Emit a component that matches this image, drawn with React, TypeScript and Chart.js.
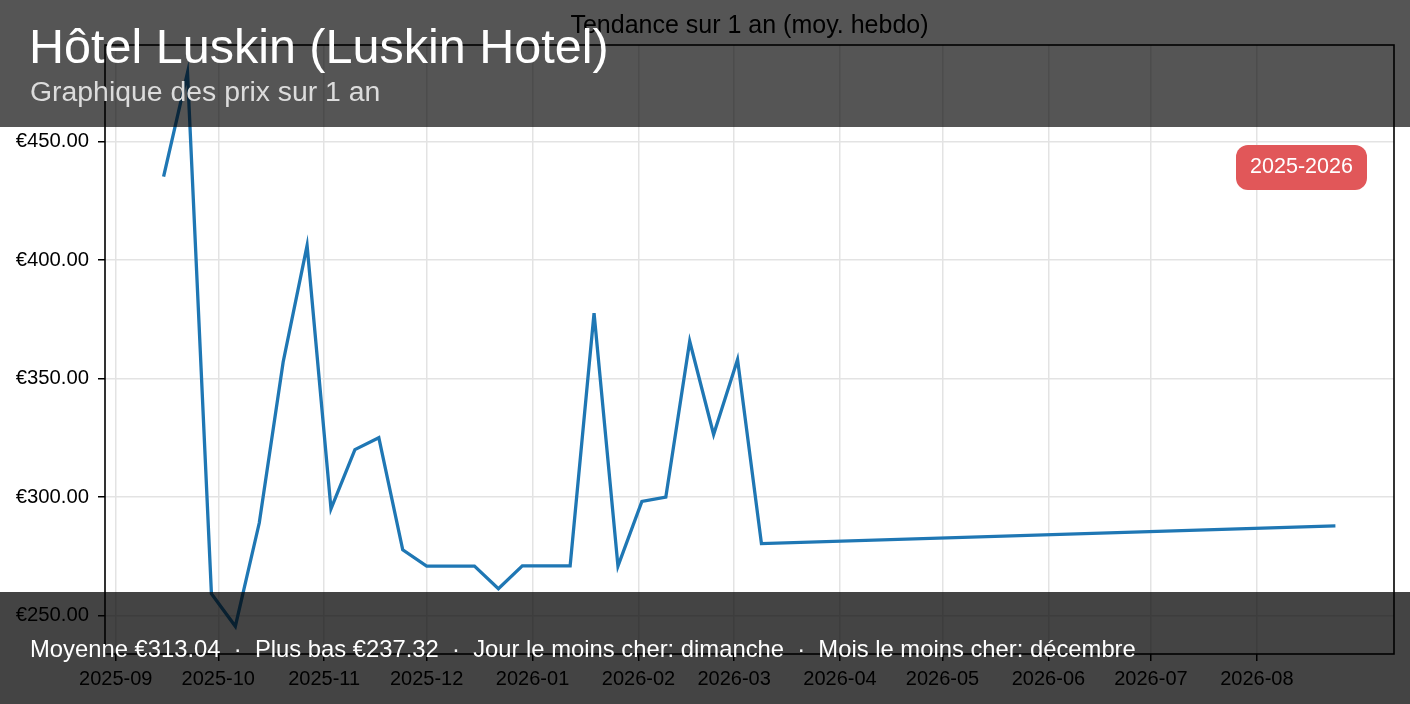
import React, { useEffect, useRef } from "react";
import { Chart, registerables } from "chart.js";

Chart.register(...registerables);

// ---- Data ----
const weekStarts = [
  "2025-09-15", "2025-09-22", "2025-09-29", "2025-10-06", "2025-10-13", "2025-10-20",
  "2025-10-27", "2025-11-03", "2025-11-10", "2025-11-17", "2025-11-24", "2025-12-01",
  "2025-12-08", "2025-12-15", "2025-12-22", "2025-12-29", "2026-01-05", "2026-01-12",
  "2026-01-19", "2026-01-26", "2026-02-02", "2026-02-09", "2026-02-16", "2026-02-23",
  "2026-03-02", "2026-03-09", "2026-08-24",
];
const weeklyAvg = [
  435.2, 479.1, 259.2, 245.4, 289.0, 357.0,
  406.1, 295.0, 320.0, 325.0, 277.7, 270.8,
  270.8, 270.8, 261.3, 270.9, 270.9, 270.9,
  377.6, 270.8, 298.1, 299.9, 365.7, 326.4,
  358.0, 280.3, 287.8,
];
const monthTicks = [
  "2025-09", "2025-10", "2025-11", "2025-12", "2026-01", "2026-02",
  "2026-03", "2026-04", "2026-05", "2026-06", "2026-07", "2026-08",
];
const priceTicks = [250, 300, 350, 400, 450];

const chartTitle = "Tendance sur 1 an (moy. hebdo)";
const hotelName = "Hôtel Luskin (Luskin Hotel)";
const subtitle = "Graphique des prix sur 1 an";
const periodBadge = "2025-2026";
const statItems = [
  "Moyenne €313.04",
  "Plus bas €237.32",
  "Jour le moins cher: dimanche",
  "Mois le moins cher: décembre",
];

const FONT = '"Liberation Sans", Arial, Helvetica, sans-serif';

const overlayPlugin = {
  id: "overlayPlugin",
  afterDatasetsDraw(chart: any) {
    const { ctx, chartArea: a } = chart;
    ctx.save();
    ctx.strokeStyle = "#000";
    ctx.lineWidth = 1.6;
    ctx.strokeRect(a.left, a.top, a.right - a.left, a.bottom - a.top);
    ctx.restore();
  },
  afterDraw(chart: any) {
    const { ctx, chartArea: a } = chart;
    const W = chart.width;
    const H = chart.height;
    ctx.save();
    // axes title
    ctx.fillStyle = "#000";
    ctx.font = `25px ${FONT}`;
    ctx.textAlign = "center";
    ctx.textBaseline = "alphabetic";
    ctx.fillText(chartTitle, (a.left + a.right) / 2, 32.5);

    // period badge
    const bw = 131, bh = 45;
    const bx = a.right - 27 - bw;
    const by = a.top + 100;
    ctx.fillStyle = "#e15759";
    ctx.beginPath();
    if ((ctx as any).roundRect) (ctx as any).roundRect(bx, by, bw, bh, 12);
    else ctx.rect(bx, by, bw, bh);
    ctx.fill();
    ctx.fillStyle = "#ffffff";
    ctx.font = `21.5px ${FONT}`;
    ctx.textAlign = "center";
    ctx.fillText(periodBadge, bx + bw / 2, by + 28.3);

    // overlay banners
    ctx.fillStyle = "rgba(0,0,0,0.667)";
    ctx.fillRect(0, 0, W, 127);
    ctx.fillStyle = "rgba(0,0,0,0.733)";
    ctx.fillRect(0, 592, W, H - 592);

    // banner texts
    ctx.textAlign = "left";
    ctx.fillStyle = "#ffffff";
    ctx.font = `48.5px ${FONT}`;
    ctx.fillText(hotelName, 29, 63.3);
    ctx.fillStyle = "#dcdcdc";
    ctx.font = `28.4px ${FONT}`;
    ctx.fillText(subtitle, 30, 101);
    ctx.fillStyle = "#ffffff";
    ctx.font = `23.8px ${FONT}`;
    ctx.fillText(statItems.join("  ·  "), 30, 656.7);
    ctx.restore();
  },
};

export default function App() {
  const canvasRef = useRef<HTMLCanvasElement | null>(null);

  useEffect(() => {
    const canvas = canvasRef.current;
    if (!canvas) return;
    const xs = weekStarts.map((d) => Date.parse(d));
    const xMinData = Math.min(...xs);
    const xMaxData = Math.max(...xs);
    const xPad = (xMaxData - xMinData) * 0.05;
    const yMinData = Math.min(...weeklyAvg);
    const yMaxData = Math.max(...weeklyAvg);
    const yPad = (yMaxData - yMinData) * 0.05;

    const chart = new Chart(canvas, {
      type: "line",
      data: {
        datasets: [
          {
            label: "Moyenne hebdomadaire",
            data: xs.map((x, i) => ({ x, y: weeklyAvg[i] })),
            borderColor: "#1f77b4",
            borderWidth: 3.3,
            pointRadius: 0,
            pointHoverRadius: 0,
            tension: 0,
            fill: false,
            borderJoinStyle: "miter",
            borderCapStyle: "butt",
          },
        ],
      },
      options: {
        animation: false,
        responsive: false,
        devicePixelRatio: 1,
        events: [],
        layout: { padding: { left: 0, top: 45, right: 16, bottom: 0 } },
        plugins: {
          legend: { display: false },
          title: { display: false },
          tooltip: { enabled: false },
        },
        scales: {
          x: {
            type: "linear",
            min: xMinData - xPad,
            max: xMaxData + xPad,
            afterBuildTicks: (scale: any) => {
              scale.ticks = monthTicks.map((m) => ({ value: Date.parse(m + "-01") }));
            },
            afterFit: (scale: any) => {
              scale.height = 50;
            },
            border: { display: false },
            grid: {
              color: "#e3e3e3",
              lineWidth: 1.5,
              tickColor: "#000",
              tickWidth: 1.5,
              tickLength: 7,
              drawTicks: true,
            },
            ticks: {
              autoSkip: false,
              maxRotation: 0,
              minRotation: 0,
              padding: 6,
              color: "#000",
              font: { family: FONT, size: 20 },
              callback: (_v: any, i: number) => monthTicks[i],
            },
          },
          y: {
            type: "linear",
            min: yMinData - yPad,
            max: yMaxData + yPad,
            afterBuildTicks: (scale: any) => {
              scale.ticks = priceTicks.map((v) => ({ value: v }));
            },
            afterFit: (scale: any) => {
              scale.width = 105;
            },
            border: { display: false },
            grid: {
              color: "#e3e3e3",
              lineWidth: 1.5,
              tickColor: "#000",
              tickWidth: 1.5,
              tickLength: 7,
              drawTicks: true,
            },
            ticks: {
              padding: 9,
              color: "#000",
              font: { family: FONT, size: 20.3 },
              callback: (v: any) => "€" + Number(v).toFixed(2),
            },
          },
        },
      },
      plugins: [overlayPlugin],
    } as any);

    return () => chart.destroy();
  }, []);

  return (
    <div
      style={{
        position: "absolute",
        left: 0,
        top: 0,
        width: 1410,
        height: 704,
        overflow: "hidden",
        background: "#ffffff",
      }}
    >
      <canvas ref={canvasRef} width={1410} height={704} style={{ display: "block" }} />
    </div>
  );
}
